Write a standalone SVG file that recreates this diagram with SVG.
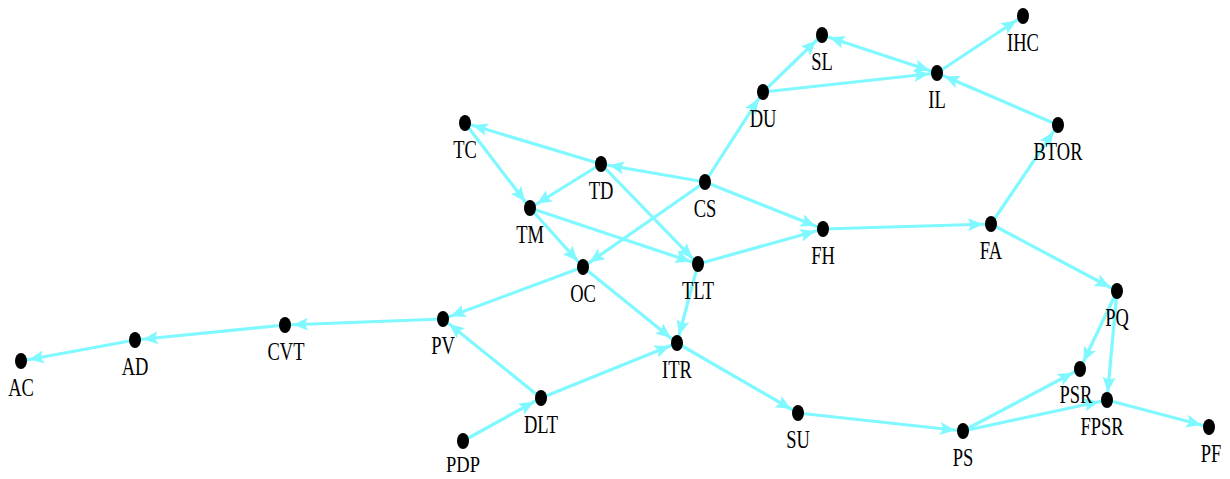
<svg xmlns="http://www.w3.org/2000/svg" width="1230" height="479" viewBox="0 0 1230 479">
<style>
.e{stroke:#80f8ff;stroke-width:3.2;fill:none;marker-end:url(#ah)}
.n ellipse{fill:#000}
.n text{font-family:"Liberation Serif","Times New Roman",serif;font-size:18.5px;fill:#000;text-anchor:middle}
</style>
<defs>
<marker id="ah" markerUnits="userSpaceOnUse" markerWidth="26" markerHeight="14" refX="23" refY="6.5" orient="auto-start-reverse" viewBox="0 0 26 13">
<path d="M0,0 L15,6.5 L0,13 L3,6.5 z" fill="#80f8ff"/>
</marker>
</defs>
<rect width="1230" height="479" fill="#fff"/>
<g id="connectors">
<line class="e" x1="135" y1="340" x2="21" y2="361"/>
<line class="e" x1="285" y1="325" x2="135" y2="340"/>
<line class="e" x1="443" y1="319" x2="285" y2="325"/>
<line class="e" x1="583" y1="267" x2="443" y2="319"/>
<line class="e" x1="541" y1="398" x2="443" y2="319"/>
<line class="e" x1="463" y1="441" x2="541" y2="398"/>
<line class="e" x1="541" y1="398" x2="677" y2="343"/>
<line class="e" x1="583" y1="267" x2="677" y2="343"/>
<line class="e" x1="698" y1="264" x2="677" y2="343"/>
<line class="e" x1="677" y1="343" x2="798" y2="413"/>
<line class="e" x1="798" y1="413" x2="963" y2="431"/>
<line class="e" x1="963" y1="431" x2="1080" y2="369"/>
<line class="e" x1="963" y1="431" x2="1107" y2="400"/>
<line class="e" x1="1117" y1="291" x2="1080" y2="369"/>
<line class="e" x1="1117" y1="291" x2="1107" y2="400"/>
<line class="e" x1="1107" y1="400" x2="1209" y2="427"/>
<line class="e" x1="991" y1="224" x2="1117" y2="291"/>
<line class="e" x1="823" y1="229" x2="991" y2="224"/>
<line class="e" x1="705" y1="182" x2="823" y2="229"/>
<line class="e" x1="698" y1="264" x2="823" y2="229"/>
<line class="e" x1="1058" y1="125" x2="937" y2="73"/>
<line class="e" x1="991" y1="224" x2="1058" y2="125"/>
<line class="e" x1="937" y1="73" x2="1023" y2="16"/>
<line class="e" x1="822" y1="35" x2="937" y2="73" style="marker-start:url(#ah)"/>
<line class="e" x1="763" y1="92" x2="937" y2="73"/>
<line class="e" x1="763" y1="92" x2="822" y2="35"/>
<line class="e" x1="705" y1="182" x2="763" y2="92"/>
<line class="e" x1="705" y1="182" x2="601" y2="164"/>
<line class="e" x1="601" y1="164" x2="465" y2="123"/>
<line class="e" x1="465" y1="123" x2="530" y2="208"/>
<line class="e" x1="601" y1="164" x2="530" y2="208"/>
<line class="e" x1="601" y1="164" x2="698" y2="264"/>
<line class="e" x1="530" y1="208" x2="583" y2="267"/>
<line class="e" x1="530" y1="208" x2="698" y2="264"/>
<line class="e" x1="705" y1="182" x2="583" y2="267"/>
</g>
<g id="AC" class="n"><ellipse cx="21" cy="361" rx="6" ry="8"/><text transform="translate(21,396) scale(1,1.33)">AC</text></g>
<g id="AD" class="n"><ellipse cx="135" cy="340" rx="6" ry="8"/><text transform="translate(135,375) scale(1,1.33)">AD</text></g>
<g id="CVT" class="n"><ellipse cx="285" cy="325" rx="6" ry="8"/><text transform="translate(286,360) scale(1,1.33)">CVT</text></g>
<g id="PV" class="n"><ellipse cx="443" cy="319" rx="6" ry="8"/><text transform="translate(443,354) scale(1,1.33)">PV</text></g>
<g id="OC" class="n"><ellipse cx="583" cy="267" rx="6" ry="8"/><text transform="translate(583,302) scale(1,1.33)">OC</text></g>
<g id="ITR" class="n"><ellipse cx="677" cy="343" rx="6" ry="8"/><text transform="translate(677,378) scale(1,1.33)">ITR</text></g>
<g id="DLT" class="n"><ellipse cx="541" cy="398" rx="6" ry="8"/><text transform="translate(541,433) scale(1,1.33)">DLT</text></g>
<g id="PDP" class="n"><ellipse cx="463" cy="441" rx="6" ry="8"/><text transform="translate(463,472) scale(1,1.3)">PDP</text></g>
<g id="TC" class="n"><ellipse cx="465" cy="123" rx="6" ry="8"/><text transform="translate(465,158) scale(1,1.33)">TC</text></g>
<g id="TD" class="n"><ellipse cx="601" cy="164" rx="6" ry="8"/><text transform="translate(601,199) scale(1,1.33)">TD</text></g>
<g id="TM" class="n"><ellipse cx="530" cy="208" rx="6" ry="8"/><text transform="translate(530,243) scale(1,1.33)">TM</text></g>
<g id="CS" class="n"><ellipse cx="705" cy="182" rx="6" ry="8"/><text transform="translate(705,217) scale(1,1.33)">CS</text></g>
<g id="TLT" class="n"><ellipse cx="698" cy="264" rx="6" ry="8"/><text transform="translate(698,299) scale(1,1.33)">TLT</text></g>
<g id="FH" class="n"><ellipse cx="823" cy="229" rx="6" ry="8"/><text transform="translate(823,264) scale(1,1.33)">FH</text></g>
<g id="FA" class="n"><ellipse cx="991" cy="224" rx="6" ry="8"/><text transform="translate(991,259) scale(1,1.33)">FA</text></g>
<g id="DU" class="n"><ellipse cx="763" cy="92" rx="6" ry="8"/><text transform="translate(763,127) scale(1,1.33)">DU</text></g>
<g id="SL" class="n"><ellipse cx="822" cy="35" rx="6" ry="8"/><text transform="translate(822,70) scale(1,1.33)">SL</text></g>
<g id="IL" class="n"><ellipse cx="937" cy="73" rx="6" ry="8"/><text transform="translate(937,108) scale(1,1.33)">IL</text></g>
<g id="IHC" class="n"><ellipse cx="1023" cy="16" rx="6" ry="8"/><text transform="translate(1023,51) scale(1,1.33)">IHC</text></g>
<g id="BTOR" class="n"><ellipse cx="1058" cy="125" rx="6" ry="8"/><text transform="translate(1058,160) scale(1,1.33)">BTOR</text></g>
<g id="PQ" class="n"><ellipse cx="1117" cy="291" rx="6" ry="8"/><text transform="translate(1117,326) scale(1,1.33)">PQ</text></g>
<g id="PSR" class="n"><ellipse cx="1080" cy="369" rx="6" ry="8"/><text transform="translate(1076,403) scale(1,1.33)">PSR</text></g>
<g id="FPSR" class="n"><ellipse cx="1107" cy="400" rx="6" ry="8"/><text transform="translate(1102,435) scale(1,1.33)">FPSR</text></g>
<g id="PF" class="n"><ellipse cx="1209" cy="427" rx="6" ry="8"/><text transform="translate(1211,462) scale(1,1.33)">PF</text></g>
<g id="PS" class="n"><ellipse cx="963" cy="431" rx="6" ry="8"/><text transform="translate(963,466) scale(1,1.33)">PS</text></g>
<g id="SU" class="n"><ellipse cx="798" cy="413" rx="6" ry="8"/><text transform="translate(798,448) scale(1,1.33)">SU</text></g>
</svg>
